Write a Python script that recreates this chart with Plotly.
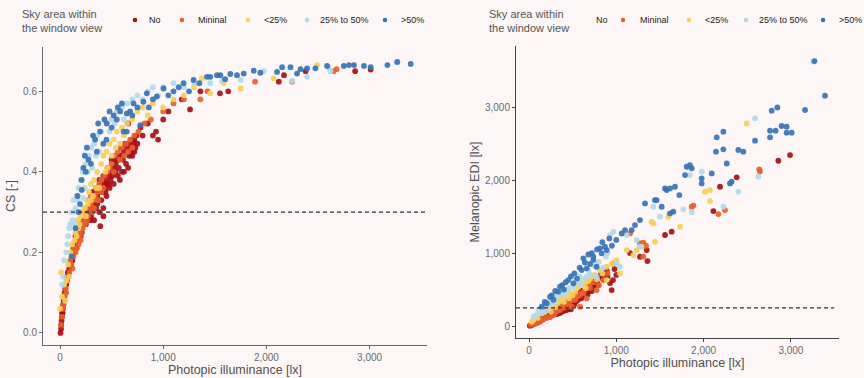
import plotly.graph_objects as go

# ---------------- data: left panel (photopic lx, CS) ----------------
L_no_x = [5,10,12,15,18,20,25,28,30,35,40,45,50,55,60,65,70,75,80,90,100,110,115,125,130,140,150,160,170,180,190,200,210,220,230,240,250,260,270,280,290,300,310,320,330,340,350,360,380,400,410,420,440,450,470,480,500,520,540,560,580,600,620,640,660,680,700,720,740,640,600,520,450,400,350,300,250,200,160,120,420,380,330,660,700,720,560,500,460,420,380,350,320,280,250,390,420,660,780,800,850,900,930,950,1000,1050,1180,1260,1360,1550,1630,2120,2170,2380,2860,3010,
          150,170,190,210,230,260,290,310,340,360,390,430,470,490,510,530,570,590,610,630,670,690,710,730,750,620,580,540,480,440]
L_no_y = [0.0,0.01,0.02,0.03,0.04,0.05,0.05,0.06,0.07,0.08,0.09,0.10,0.11,0.12,0.12,0.13,0.14,0.15,0.15,0.16,0.17,0.18,0.19,0.20,0.21,0.22,0.22,0.23,0.24,0.25,0.25,0.26,0.27,0.27,0.28,0.28,0.29,0.29,0.30,0.30,0.31,0.31,0.32,0.32,0.33,0.33,0.34,0.34,0.35,0.36,0.35,0.37,0.38,0.37,0.39,0.40,0.40,0.41,0.42,0.43,0.44,0.44,0.45,0.46,0.47,0.46,0.48,0.48,0.49,0.42,0.40,0.37,0.34,0.33,0.31,0.29,0.27,0.24,0.21,0.18,0.31,0.30,0.28,0.41,0.44,0.45,0.39,0.43,0.41,0.39,0.38,0.36,0.35,0.33,0.31,0.265,0.29,0.52,0.51,0.49,0.52,0.49,0.50,0.48,0.53,0.55,0.58,0.555,0.60,0.595,0.60,0.624,0.64,0.65,0.65,0.654,
          0.24,0.26,0.27,0.25,0.30,0.31,0.28,0.30,0.35,0.32,0.37,0.36,0.37,0.38,0.39,0.43,0.41,0.46,0.43,0.47,0.44,0.45,0.47,0.46,0.47,0.40,0.38,0.40,0.36,0.35]

L_min_x = [10,20,30,35,45,55,60,70,80,90,100,110,130,150,170,180,200,220,240,260,280,300,320,340,360,380,400,430,460,500,530,560,600,640,680,720,760,820,880,1000,1100,1200,1360,1430,1890,2250,2650,2680,250,300,130,200,400,350,
           120,160,190,230,270,310,330,370,420,480,520,580,620,660,700]
L_min_y = [0.02,0.04,0.06,0.07,0.09,0.11,0.10,0.13,0.14,0.15,0.18,0.17,0.19,0.20,0.23,0.22,0.25,0.26,0.27,0.28,0.31,0.32,0.33,0.34,0.35,0.37,0.38,0.39,0.40,0.42,0.44,0.45,0.46,0.47,0.48,0.49,0.50,0.52,0.53,0.55,0.57,0.58,0.58,0.60,0.624,0.624,0.65,0.655,0.30,0.34,0.21,0.23,0.35,0.33,
           0.16,0.21,0.24,0.28,0.29,0.30,0.31,0.33,0.36,0.41,0.40,0.43,0.44,0.45,0.46]

L_lt25_x = [0,10,20,40,60,80,100,120,150,170,200,230,260,280,300,330,360,400,420,450,480,520,550,600,650,700,750,800,900,1000,1100,1200,1300,1375,1456,1586,1750,2070,2490,210,250,320,380,460,180,140,540,620,850,
            50,90,110,160,190,240,270,300,350,440,500,580]
L_lt25_y = [0.06,0.15,0.09,0.12,0.13,0.17,0.20,0.22,0.25,0.28,0.29,0.31,0.33,0.35,0.37,0.38,0.40,0.42,0.44,0.45,0.47,0.48,0.50,0.51,0.52,0.53,0.55,0.56,0.57,0.56,0.58,0.59,0.61,0.632,0.595,0.62,0.607,0.632,0.665,0.30,0.29,0.34,0.36,0.41,0.26,0.23,0.46,0.49,0.54,
            0.08,0.14,0.19,0.24,0.27,0.31,0.32,0.33,0.36,0.40,0.44,0.47]

L_mid_x = [20,40,60,80,100,110,130,150,180,200,220,250,280,300,330,360,400,450,500,550,600,650,700,750,800,850,900,950,1000,1100,1200,1300,1456,1570,1750,1974,2250,2394,2600,2620,3260,270,350,160,420,146,226,
           30,70,90,120,140,170,240,310,380,480,530,620]
L_mid_y = [0.12,0.18,0.20,0.24,0.27,0.30,0.33,0.31,0.36,0.38,0.40,0.42,0.44,0.46,0.47,0.49,0.50,0.52,0.53,0.55,0.56,0.57,0.58,0.59,0.58,0.60,0.61,0.59,0.61,0.62,0.61,0.62,0.62,0.626,0.628,0.65,0.626,0.636,0.66,0.65,0.672,0.40,0.44,0.34,0.47,0.27,0.335,
           0.14,0.22,0.26,0.28,0.30,0.33,0.36,0.41,0.45,0.50,0.52,0.53]

L_hi_x = [113,150,180,194,210,210,226,250,275,300,340,356,388,420,453,500,550,583,615,647,647,712,777,808,841,900,938,1003,1050,1100,1150,1197,1250,1294,1350,1424,1456,1521,1553,1600,1650,1715,1780,1877,1941,2103,2152,2233,2297,2330,2394,2475,2588,2750,2800,2848,2945,3010,3172,3269,3398,700,750,860,450,520,
          170,240,260,320,370,430,480,560,600,680]
L_hi_y = [0.19,0.26,0.30,0.32,0.355,0.38,0.41,0.40,0.43,0.42,0.48,0.45,0.50,0.47,0.52,0.51,0.53,0.55,0.50,0.545,0.50,0.57,0.516,0.574,0.595,0.58,0.587,0.607,0.59,0.60,0.61,0.62,0.60,0.628,0.62,0.636,0.636,0.64,0.64,0.63,0.643,0.64,0.644,0.651,0.646,0.648,0.66,0.66,0.644,0.655,0.657,0.657,0.663,0.663,0.665,0.665,0.663,0.66,0.665,0.673,0.668,0.54,0.56,0.56,0.48,0.54,
          0.34,0.44,0.46,0.49,0.52,0.53,0.55,0.56,0.57,0.55]

# ---------------- data: right panel (photopic lx, melanopic EDI lx) ----------------
R_no_x = [10,20,31,50,70,90,110,126,150,170,190,210,241,260,280,300,320,355,380,400,432,450,470,480,504,520,540,560,584,600,620,640,661,680,700,733,760,780,813,850,890,928,947,962,1000,1157,1271,1348,1357,1558,1634,2112,2188,2379,2856,2990,350,420,500,560,600,650,700,300,250,200,150,100,400,450,530,
          330,370,410,460,490,510,550,570,590,610,630,670,690,720,750,790,820,870,900,980]
R_no_y = [5,10,14,25,40,50,60,82,90,110,120,130,127,150,160,170,165,178,200,210,219,240,260,230,315,300,340,360,401,380,420,450,493,470,510,538,560,600,675,640,767,589,493,630,700,1000,949,1041,890,1247,1292,1575,1908,2037,2264,2342,250,280,380,440,480,550,600,230,190,150,120,80,300,320,420,
          190,230,250,280,300,350,390,420,450,400,470,430,520,480,620,560,700,720,680,780]

R_min_x = [20,50,88,126,160,200,241,280,320,355,400,450,489,527,584,623,661,699,775,852,962,1157,1271,1309,1309,1340,1864,1883,2169,2245,2638,2645,550,600,700,380,430,
           300,340,460,480,520,580,640,680,740,800,900]
R_min_y = [15,30,37,59,90,110,127,150,200,219,250,270,265,356,265,447,378,584,493,630,858,1269,1132,950,1141,1100,1634,1650,1534,1589,2146,2116,400,450,520,280,330,
           180,230,320,350,380,420,500,560,600,560,720]

R_lt25_x = [30,50,88,150,203,250,298,350,393,470,565,584,650,700,750,813,890,890,950,1004,1042,1119,1195,1233,1290,1405,1424,1443,1596,1730,2016,2073,2073,2493,300,400,500,250,650,780,
            100,180,230,330,370,430,460,530,620,680,720,840]
R_lt25_y = [60,82,127,170,219,260,310,350,401,447,538,585,600,650,700,767,812,630,850,904,721,1041,972,1041,1087,1429,1406,1155,1497,1360,1840,1863,1712,2776,260,330,420,200,520,640,
            110,190,240,320,370,410,380,470,560,620,680,720]

R_mid_x = [50,107,126,160,203,250,317,380,432,508,560,620,661,700,775,850,928,966,1004,1042,1119,1233,1271,1424,1500,1768,1844,1864,1978,2226,2398,2589,2627,3257,300,400,600,750,880,
           80,140,180,230,280,350,460,540,580,680,800,900]
R_mid_y = [127,219,173,200,219,300,401,450,493,538,600,640,675,700,675,800,1246,1292,858,812,1246,1178,1087,1634,1500,1598,2068,1560,2114,1634,1840,2845,2046,3621,330,420,560,820,950,
           150,230,270,330,380,440,520,620,680,760,880,1000]

R_hi_x = [145,203,241,280,336,355,400,450,508,550,604,623,661,700,737,737,775,813,832,870,890,950,1062,1100,1176,1214,1271,1329,1443,1462,1520,1558,1577,1615,1615,1653,1672,1722,1787,1806,1844,1864,1978,1978,2093,2142,2150,2226,2226,2265,2302,2321,2398,2455,2589,2761,2761,2780,2825,2845,2894,2951,2951,3009,3162,3270,3391,
          180,260,300,380,420,480,520,580,640,680,720,780,840,920,1000]
R_hi_y = [265,310,401,360,470,538,500,630,585,650,767,927,790,850,904,950,812,1064,995,1087,1041,1100,1269,1315,1315,1383,1452,1680,1726,1726,1634,1885,1863,1885,1543,1566,1908,1794,2068,2182,2205,2160,2023,1954,2091,2388,2585,2662,2420,2228,1954,1977,2411,2388,2539,2585,2676,2950,2676,2995,2740,2731,2648,2648,2959,3630,3155,
          330,420,480,560,600,680,720,800,870,980,1000,1050,1150,1200,1180]

categories = ["No", "Mininal", "<25%", "25% to 50%", ">50%"]
colors = ["#a50f15", "#e8602c", "#f6cf5a", "#b3d8ea", "#3673b5"]
legend_title = "Sky area within<br>the window view"

left_series = [(L_no_x, L_no_y), (L_min_x, L_min_y), (L_lt25_x, L_lt25_y), (L_mid_x, L_mid_y), (L_hi_x, L_hi_y)]
right_series = [(R_no_x, R_no_y), (R_min_x, R_min_y), (R_lt25_x, R_lt25_y), (R_mid_x, R_mid_y), (R_hi_x, R_hi_y)]

cs_threshold = 0.3
edi_threshold = 250

W, H = 864, 378
bg = "#fcf7f6"

fig = go.Figure()
for (xs, ys), name, col in zip(left_series, categories, colors):
    fig.add_trace(go.Scatter(x=xs, y=ys, mode="markers", name=name, showlegend=False,
                             marker=dict(color=col, size=5.8, opacity=0.92, line=dict(width=0)),
                             xaxis="x", yaxis="y"))
for (xs, ys), name, col in zip(right_series, categories, colors):
    fig.add_trace(go.Scatter(x=xs, y=ys, mode="markers", name=name, showlegend=False,
                             marker=dict(color=col, size=5.8, opacity=0.92, line=dict(width=0)),
                             xaxis="x2", yaxis="y2"))

def px_x(p):
    return p / W

def px_y(p):
    return 1 - p / H

tickfont = dict(family="Liberation Sans, Arial, sans-serif", size=10, color="#6a6a6a")
titlefont = dict(family="Liberation Sans, Arial, sans-serif", size=12.5, color="#505050")

common_axis = dict(showgrid=False, zeroline=False, showline=True, ticks="outside", ticklen=3,
                   tickwidth=1, tickfont=tickfont)

fig.update_layout(
    width=W, height=H, margin=dict(l=0, r=0, t=0, b=0),
    paper_bgcolor=bg, plot_bgcolor=bg, showlegend=False,
    xaxis=dict(domain=[px_x(43), px_x(427)], range=[-165, 3556], anchor="y",
               tickvals=[0, 1000, 2000, 3000], ticktext=["0", "1,000", "2,000", "3,000"],
               linecolor="#666666", tickcolor="#666666",
               title=dict(text="Photopic illuminance [lx]", font=titlefont, standoff=1), **common_axis),
    yaxis=dict(domain=[px_y(345), px_y(47)], range=[-0.03, 0.71], anchor="x",
               tickvals=[0, 0.2, 0.4, 0.6], ticktext=["0.0", "0.2", "0.4", "0.6"],
               linecolor="#666666", tickcolor="#666666",
               title=dict(text="CS [-]", font=titlefont, standoff=4), **common_axis),
    xaxis2=dict(domain=[px_x(516), px_x(839)], range=[-149, 3551], anchor="y2",
                tickvals=[0, 1000, 2000, 3000], ticktext=["0", "1,000", "2,000", "3,000"],
                linecolor="#444444", tickcolor="#444444",
                title=dict(text="Photopic illuminance [lx]", font=titlefont, standoff=1), **common_axis),
    yaxis2=dict(domain=[px_y(338), px_y(46)], range=[-164, 3836], anchor="x2",
                tickvals=[0, 1000, 2000, 3000], ticktext=["0", "1,000", "2,000", "3,000"],
                linecolor="#444444", tickcolor="#444444",
                title=dict(text="Melanopic EDI [lx]", font=titlefont, standoff=2), **common_axis),
)

shapes = [
    dict(type="line", xref="x domain", yref="y", x0=0, x1=1, y0=cs_threshold, y1=cs_threshold,
         line=dict(color="#333333", width=1.2, dash="4px,3px"), layer="above"),
    dict(type="line", xref="x2 domain", yref="y2", x0=0, x1=0.985, y0=edi_threshold, y1=edi_threshold,
         line=dict(color="#333333", width=1.2, dash="4px,3px"), layer="above"),
]

annotations = []
lab_font = dict(family="Liberation Sans, Arial, sans-serif", size=9, color="#222222")
title_font = dict(family="Liberation Sans, Arial, sans-serif", size=11, color="#555555")

# legend positions in pixels (dot x, label x)
left_leg = [(135, 147), (182, 196), (248, 262), (307, 318), (385, 399)]
right_leg = [(None, 594), (623, 638), (689, 703), (746, 757), (823, 837)]
for (title_x, legs) in [(20, left_leg), (487, right_leg)]:
    annotations.append(dict(text=legend_title, xref="paper", yref="paper", x=px_x(title_x), y=px_y(6),
                            xanchor="left", yanchor="top", showarrow=False, align="left", font=title_font))
    for (dx, lx), name, col in zip(legs, categories, colors):
        if dx is not None:
            r = 2.3
            shapes.append(dict(type="circle", xref="paper", yref="paper",
                               x0=px_x(dx - r), x1=px_x(dx + r), y0=px_y(20 + r), y1=px_y(20 - r),
                               fillcolor=col, line=dict(width=0)))
        annotations.append(dict(text=name, xref="paper", yref="paper", x=px_x(lx), y=px_y(20),
                                xanchor="left", yanchor="middle", showarrow=False, font=lab_font))

fig.update_layout(shapes=shapes, annotations=annotations)
fig.write_html("out.html")
